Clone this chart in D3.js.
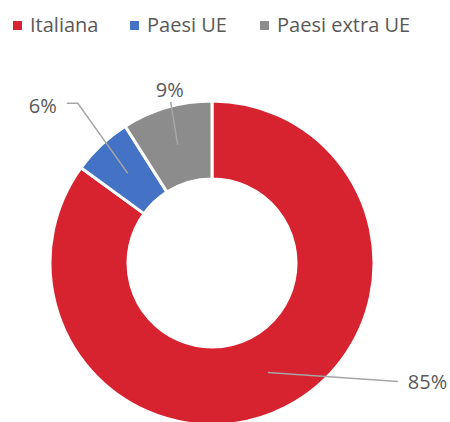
<!DOCTYPE html>
<html>
<head>
<meta charset="utf-8">
<script src="https://cdn.jsdelivr.net/npm/d3@7"></script>
<style>
	body { margin: 0; background: #fff; }
	text { font-family: "Open Sans", "Noto Sans", sans-serif; fill: #595959; }
</style>
</head>
<body>
<svg width="450" height="422"></svg>
<script>
// Donut: provenienza (Italiana / Paesi UE / Paesi extra UE)

const categories = ['Italiana', 'Paesi UE', 'Paesi extra UE']
const values = [85, 6, 9]
const labels = ['85%', '6%', '9%']
const colours = ['#d7232f', '#4472c4', '#8c8c8c']

const svg = d3.select('svg')
const cx = 212, cy = 263
const outer = 162, inner = 84

var colour = d3.scaleOrdinal().domain(categories).range(colours)

var pie = d3.pie().sort(null).value(function(d) { return d.value })
var arcs = pie(categories.map(function(c, i) { return {cat: c, value: values[i], label: labels[i]} }))

var arc = d3.arc().innerRadius(inner).outerRadius(outer)
var mid = d3.arc().innerRadius((inner + outer) / 2).outerRadius((inner + outer) / 2)

var chart = svg.append('g').attr('transform', 'translate(' + cx + ',' + cy + ')')

chart.selectAll('path.slice').data(arcs).enter().append('path')
	.attr('class', 'slice')
	.attr('d', arc)
	.attr('fill', function(d) { return colour(d.data.cat) })
	.attr('stroke', '#fff')
	.attr('stroke-width', 3)

// label placement (offsets from slice centroid), roughly as Excel put them
const labelPos = [
	{lx: 140, ly: 9, elbow: null, anchor: 'start', ex: 130, ey: 9},
	{lx: -71, ly: -67, elbow: [-50, -70], anchor: 'end', ex: -61, ey: -70},
	{lx: -8, ly: -55, elbow: null, anchor: 'middle', ex: -7, ey: -43}
]

arcs.forEach(function(d, i) {
	var c = mid.centroid(d)
	var p = labelPos[i]
	var pts = [c]
	if (p.elbow) pts.push([c[0] + p.elbow[0], c[1] + p.elbow[1]])
	pts.push([c[0] + p.ex, c[1] + p.ey])
	chart.append('path')
		.attr('d', d3.line()(pts))
		.attr('fill', 'none')
		.attr('stroke', '#a6a6a6')
		.attr('stroke-width', 1.5)
	chart.append('text')
		.attr('x', c[0] + p.lx)
		.attr('y', c[1] + p.ly)
		.attr('dy', '0.35em')
		.attr('text-anchor', p.anchor)
		.attr('font-size', 20)
		.text(d.data.label)
})

// legend
var legend = svg.append('g').attr('transform', 'translate(13,25)')
var legX = [0, 117, 247]
var item = legend.selectAll('g').data(categories).enter().append('g')
	.attr('transform', function(d, i) { return 'translate(' + legX[i] + ',0)' })
item.append('rect')
	.attr('x', 0).attr('y', -4).attr('width', 9).attr('height', 9)
	.attr('fill', function(d) { return colour(d) })
item.append('text')
	.attr('x', 17).attr('y', 0).attr('dy', '0.35em')
	.attr('font-size', 20)
	.text(function(d) { return d })
</script>
</body>
</html>
